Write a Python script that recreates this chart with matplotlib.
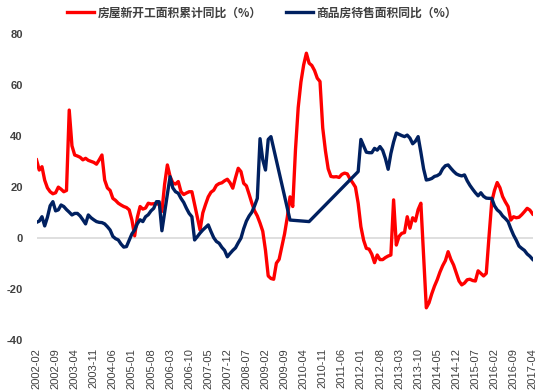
import numpy as np
import pandas as pd
import matplotlib
matplotlib.use("Agg")
import matplotlib.pyplot as plt

# monthly categories 2002-02 .. 2017-04
months = pd.period_range("2002-02", "2017-04", freq="M").strftime("%Y-%m").tolist()

# 房屋新开工面积累计同比 (%)
new_starts = [
    30.5, 26.5, 27.8, 22.5, 19.5, 18.0, 17.2, 17.6, 19.8, 19.0,   # 2002-02
    18.0, 18.5, 50.0, 36.0, 32.4, 32.0, 31.5, 30.5, 31.1, 30.3,
    29.9, 29.5, 28.8, 30.5, 32.4, 22.6, 19.5, 18.5, 15.4, 14.6,
    13.5, 12.8, 12.2, 11.8, 10.9, 6.9, 0.7, 8.0, 12.2, 11.2,
    11.6, 13.5, 13.2, 13.3, 13.4, 13.0, 10.3, 21.0, 28.5, 24.0,
    21.5, 21.0, 22.0, 18.0, 16.9, 17.5, 18.0, 18.0, 13.0, 8.0,
    3.0, 9.7, 13.0, 16.0, 17.8, 18.6, 20.5, 21.2, 21.5, 22.3,
    22.9, 21.5, 19.4, 23.5, 27.2, 25.9, 21.3, 20.3, 17.0, 13.5,
    10.5, 8.5, 5.7, 2.5, -5.0, -15.0, -16.0, -16.3, -10.0, -8.5,
    -3.5, 1.5, 8.0, 16.0, 12.2, 34.4, 51.0, 61.0, 67.7, 72.3,
    68.4, 67.5, 65.5, 62.5, 61.2, 43.0, 34.0, 27.0, 24.0, 23.8,
    23.9, 23.6, 24.8, 25.3, 25.0, 23.0, 21.5, 19.8, 13.5, 4.3,
    -1.0, -4.2, -4.5, -6.5, -9.8, -6.8, -8.6, -8.6, -7.8, -7.2,
    -6.8, 14.8, -2.9, 0.5, 1.7, 2.0, 8.2, 3.7, 7.8, 6.5,
    11.0, 13.5, -7.0, -27.5, -25.5, -22.0, -19.0, -16.5, -13.5, -11.0,
    -9.0, -5.5, -8.5, -10.7, -13.8, -17.0, -18.5, -17.8, -16.5, -16.3,
    -16.8, -17.0, -13.0, -14.0, -15.0, -14.0, 0.4, 14.0, 18.5, 21.6,
    19.6, 16.1, 14.0, 12.2, 6.9, 8.2, 7.8, 8.0, 9.0, 10.2,
    11.5, 10.8, 9.3,
]

# 商品房待售面积同比 (%), None = no value that month
unsold = [
    6.0, 6.5, 8.2, 4.6, 8.0, 12.5, 14.1, 10.5, 10.9, 12.8,
    12.2, 11.0, 10.0, 8.9, 9.5, 9.5, 8.5, 7.0, 5.4, 8.9,
    7.8, 7.0, 6.3, 6.0, 5.9, 5.4, 4.3, 3.0, 0.5, -0.4,
    -0.9, -2.5, -3.7, -3.5, -1.0, 1.5, 3.0, 5.5, 7.0, 6.3,
    8.2, 9.0, 10.5, 11.5, 14.1, 14.1, 2.7, 10.0, 17.0, 23.9,
    19.5, 18.0, 17.4, 15.4, 13.8, 11.5, 9.5, 8.2, -0.9, 0.4,
    1.8, 3.0, 4.0, 5.0, 2.4, 0.0, -1.5, -2.2, -3.8, -5.0,
    -7.5, -6.2, -5.0, -4.0, -2.0, -0.2, 3.5, 6.5, 8.5, 10.0,
    12.5, 15.4, 38.8, 30.5, 26.5, 38.5, 39.6, None, None, None,
    None, None, None, 6.9, None, None, None, None, None, None,
    6.3, None, None, None, None, None, None, None, None, None,
    None, None, None, None, None, None, None, None, 25.9, 38.5,
    36.0, 33.5, 33.3, 33.3, 35.0, 34.3, 35.7, 34.2, 31.0, 26.8,
    33.0, 37.5, 41.0, 40.5, 40.0, 39.6, 40.2, 39.0, 36.8, 37.8,
    39.6, 33.5, 27.0, 22.6, 22.8, 23.2, 24.0, 24.3, 25.0, 27.0,
    28.2, 28.5, 27.2, 26.0, 25.0, 24.5, 24.2, 24.6, 22.3, 20.5,
    19.0, 17.6, 16.4, 17.6, 16.2, 15.5, 15.4, 15.4, 12.5, 10.9,
    10.0, 8.5, 7.5, 6.3, 3.5, 1.0, -1.0, -3.3, -4.2, -5.0,
    -6.4, -7.3, -8.5,
]

plt.rcParams['font.family'] = ['Noto Sans CJK SC', 'DejaVu Sans']

fig = plt.figure(figsize=(5.5, 3.92), dpi=100)
ax = fig.add_axes([0.0664, 0.1334, 0.902, 0.781])

x = np.arange(len(months))
red = np.array(new_starts, dtype=float)
blue = np.array([np.nan if v is None else v for v in unsold], dtype=float)
ok = ~np.isnan(blue)

ax.axhline(0, color="#d9d9d9", lw=1.2, zorder=1)
ax.plot(x, red, color="#ff0000", lw=2.4, label="房屋新开工面积累计同比（%）", zorder=3)
ax.plot(x[ok], blue[ok], color="#002060", lw=2.4, label="商品房待售面积同比（%）", zorder=3)

ax.set_xlim(0, len(months) - 1)
ax.set_ylim(-40, 80)
ax.set_yticks(range(-40, 81, 20))
ax.set_yticklabels([str(v) for v in range(-40, 81, 20)],
                   fontfamily="Liberation Sans", fontweight="bold", fontsize=8, color="#404040")
ax.set_xticks(x[::7])
ax.set_xticklabels(months[::7], rotation=90, fontfamily="Liberation Sans",
                   fontsize=8, color="#404040")
ax.tick_params(axis="y", length=0, pad=10)
ax.tick_params(axis="x", length=0, pad=6)
for s in ax.spines.values():
    s.set_visible(False)

leg = fig.legend(loc="center", bbox_to_anchor=(262 / 550, 1 - 13 / 392), ncol=2,
                 frameon=False, handlelength=2.3, handletextpad=0.3, columnspacing=2.0,
                 prop={"size": 8.5, "weight": "bold"})
for t in leg.get_texts():
    t.set_color("#404040")

fig.savefig("out.png", dpi=100)
